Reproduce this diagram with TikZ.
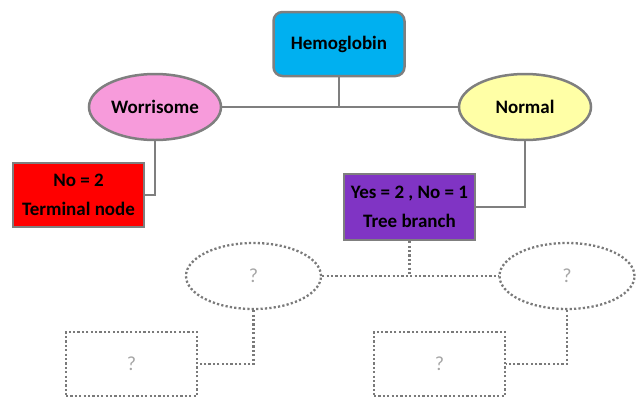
\documentclass[tikz,border=0pt]{standalone}
\usepackage{fontspec}
\setmainfont{Carlito}
\usetikzlibrary{shapes.geometric}
\definecolor{hemoblue}{HTML}{00B0F0}
\definecolor{worrypink}{HTML}{F79BDB}
\definecolor{normyellow}{HTML}{FFFFA6}
\definecolor{branchpurple}{HTML}{8034C4}
\definecolor{edgegray}{HTML}{7F7F7F}
\definecolor{dotgray}{HTML}{7A7A7A}
\definecolor{qgray}{HTML}{A6A6A6}
\tikzset{
    solidnode/.style={draw=edgegray,line width=2.5pt,inner sep=0pt,align=center,
        font=\fontsize{19}{29}\selectfont\bfseries},
    ovalnode/.style={solidnode,ellipse,minimum width=132pt,minimum height=66pt},
    boxnode/.style={solidnode,rectangle,minimum width=131pt,minimum height=64pt},
    dotline/.style={draw=dotgray,line width=2.3pt,dash pattern=on 2.2pt off 2.2pt},
    qoval/.style={dotline,ellipse,minimum width=135pt,minimum height=66pt,inner sep=0pt,
        text=qgray,font=\fontsize{20}{23}\selectfont},
    qbox/.style={dotline,rectangle,minimum width=131pt,minimum height=64pt,inner sep=0pt,
        text=qgray,font=\fontsize{20}{23}\selectfont},
    link/.style={draw=edgegray,line width=2.5pt}
}

\begin{document}
\begin{tikzpicture}[x=1pt,y=-1pt]
\useasboundingbox (0,0) rectangle (638,397);
\node[boxnode,rounded corners=9pt,fill=hemoblue] (hemo) at (339,44) {Hemoglobin};
\node[ovalnode,fill=worrypink] (worry) at (155,107) {Worrisome};
\node[ovalnode,fill=normyellow] (normal) at (525,107) {Normal};
\node[boxnode,fill=red] (term) at (78.5,195) {No = 2\\Terminal node};
\node[boxnode,minimum height=66pt,fill=branchpurple] (branch) at (409.5,207) {Yes = 2 , No = 1\\Tree branch};
\node[qoval] (qleft) at (253.5,276) {?};
\node[qoval] (qright) at (567,276) {?};
\node[qbox] (qboxl) at (131.5,364) {?};
\node[qbox] (qboxr) at (439.5,364) {?};

\draw[link] (worry) -- (normal);
\draw[link] (hemo) -- (hemo |- worry);
\draw[link] (worry) |- (term);
\draw[link] (normal) |- (branch);
\draw[dotline] (qleft) -- (qright);
\draw[dotline] (branch) -- (branch |- qleft);
\draw[dotline] (qleft) |- (qboxl);
\draw[dotline] (qright) |- (qboxr);
\end{tikzpicture}
\end{document}
